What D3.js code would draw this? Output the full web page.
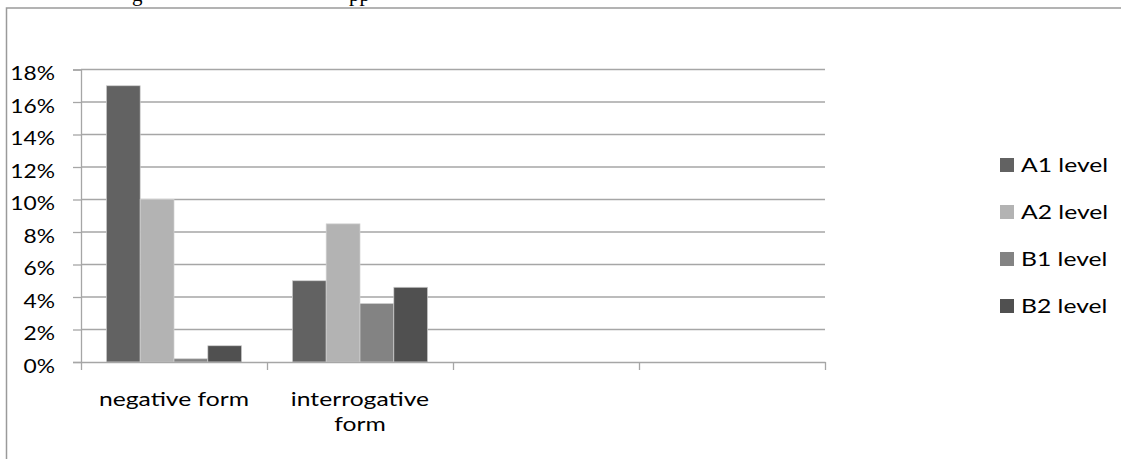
<!DOCTYPE html>
<html>
<head>
<meta charset="utf-8">
<script src="https://cdn.jsdelivr.net/npm/d3@7"></script>
<style>
  html, body { margin: 0; padding: 0; background: #fff; }
  svg { display: block; }
  .lbl { font-family: Lato, "Open Sans", sans-serif; font-size: 19px; fill: #000; }
  .serif { font-family: "Liberation Serif", "Times New Roman", serif; font-size: 21px; fill: #000; }
</style>
</head>
<body>
<svg id="chart" width="1121" height="459"></svg>
<script>
// Category slots on the x axis (only the first two carry data)
const categories = ["negative form", "interrogative form"];
const slotCount = 4;
const series = ["A1 level", "A2 level", "B1 level", "B2 level"];
// Share of each level, per category (fractions)
const a1Values = [0.17, 0.05];
const a2Values = [0.10, 0.085];
const b1Values = [0.002, 0.036];
const b2Values = [0.01, 0.046];
const seriesValues = [a1Values, a2Values, b1Values, b2Values];
const seriesColors = ["#626262", "#b3b3b3", "#838383", "#505050"];
const yTicks = [0, 0.02, 0.04, 0.06, 0.08, 0.10, 0.12, 0.14, 0.16, 0.18];

const svg = d3.select("#chart");
const SX = 1.3;   // horizontal text stretch
const SXY = 1.2;  // stretch for the value-axis labels

// outer frame of the embedded chart object
svg.append("rect")
  .attr("x", 6.5).attr("y", 8)
  .attr("width", 1130).attr("height", 470)
  .attr("fill", "none").attr("stroke", "#9a9a9a").attr("stroke-width", 1.5);

// fragments of the line of text above the frame (descenders only)
svg.append("text").attr("class", "serif").attr("x", 132).attr("y", 0.5).text("g");
svg.append("text").attr("class", "serif").attr("x", 349).attr("y", 0.5).text("pp");

const plot = { left: 81, right: 825, top: 69.5, bottom: 362 };

const y = d3.scaleLinear().domain([0, 0.18]).range([plot.bottom, plot.top]);
const slots = d3.scaleBand().domain(d3.range(slotCount)).range([plot.left, plot.right]).padding(0);
const inner = d3.scaleBand().domain(series).range([0, slots.bandwidth()])
  .paddingInner(0).paddingOuter(0.75);

// gridlines
svg.append("g").selectAll("line").data(yTicks.slice(1)).join("line")
  .attr("x1", plot.left).attr("x2", plot.right)
  .attr("y1", d => y(d)).attr("y2", d => y(d))
  .attr("stroke", "#a6a6a6").attr("stroke-width", 1.3);

// y axis
const yAxis = svg.append("g")
  .attr("transform", `translate(${plot.left},0)`)
  .call(d3.axisLeft(y).tickValues(yTicks).tickFormat(d3.format(".0%")).tickSize(8).tickPadding(0));
yAxis.select(".domain").attr("stroke", "#a6a6a6").attr("stroke-width", 1.3);
yAxis.selectAll(".tick line").attr("stroke", "#a6a6a6").attr("stroke-width", 1.3);
yAxis.selectAll(".tick text").remove();
yAxis.selectAll(".tick").append("text")
  .attr("class", "lbl")
  .attr("text-anchor", "end")
  .attr("transform", `translate(-26,10) scale(${SXY},1)`)
  .text(d => d3.format(".0%")(d));

// bars
const groups = svg.append("g").selectAll("g").data(categories).join("g")
  .attr("transform", (d, i) => `translate(${slots(i)},0)`);
groups.selectAll("rect")
  .data((d, i) => series.map((s, k) => ({ s, k, v: seriesValues[k][i] })))
  .join("rect")
  .attr("x", d => inner(d.s))
  .attr("width", inner.bandwidth())
  .attr("y", d => y(d.v))
  .attr("height", d => y(0) - y(d.v))
  .attr("fill", d => seriesColors[d.k])
  .attr("stroke", "#d0d0d0").attr("stroke-width", 0.7);

// x axis with tick marks at slot boundaries
const xEdges = d3.scaleLinear().domain([0, slotCount]).range([plot.left, plot.right]);
const xAxis = svg.append("g")
  .attr("transform", `translate(0,${plot.bottom})`)
  .call(d3.axisBottom(xEdges).tickValues(d3.range(slotCount + 1)).tickFormat("").tickSize(8).tickSizeOuter(0));
xAxis.select(".domain").attr("stroke", "#a6a6a6").attr("stroke-width", 1.3);
xAxis.selectAll(".tick line").attr("stroke", "#a6a6a6").attr("stroke-width", 1.3);

// category labels, wrapped to the slot width
categories.forEach((c, i) => {
  const cx = slots(i) + slots.bandwidth() / 2;
  const words = c.split(" ");
  const lines = [];
  let cur = [];
  const probe = svg.append("text").attr("class", "lbl");
  words.forEach(w => {
    const trial = cur.concat(w).join(" ");
    probe.text(trial);
    if (cur.length && probe.node().getComputedTextLength() * SX > slots.bandwidth() - 10) {
      lines.push(cur.join(" "));
      cur = [w];
    } else cur.push(w);
  });
  lines.push(cur.join(" "));
  probe.remove();
  lines.forEach((ln, j) => {
    svg.append("text").attr("class", "lbl")
      .attr("text-anchor", "middle")
      .attr("transform", `translate(${cx},${406 + j * 25}) scale(${SX},1)`)
      .text(ln);
  });
});

// legend
const legend = svg.append("g").selectAll("g").data(series).join("g")
  .attr("transform", (d, i) => `translate(1000,${158 + i * 47})`);
legend.append("rect").attr("width", 14).attr("height", 14)
  .attr("fill", (d, i) => seriesColors[i]);
legend.append("text").attr("class", "lbl")
  .attr("transform", `translate(21,14) scale(${SX},1)`)
  .text(d => d);
</script>
</body>
</html>
